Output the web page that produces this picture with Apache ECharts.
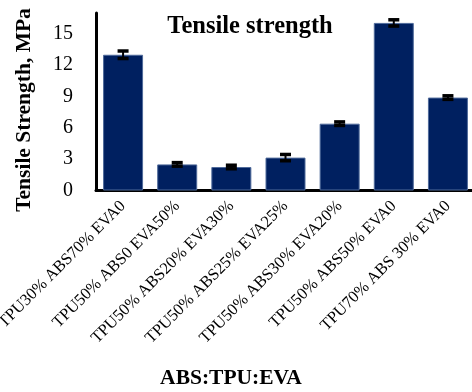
<!DOCTYPE html>
<html>
<head>
<meta charset="utf-8">
<script src="https://cdn.jsdelivr.net/npm/echarts@6/dist/echarts.min.js"></script>
<style>html,body{margin:0;padding:0;background:#fff}#c{width:472px;height:392px}</style>
</head>
<body>
<div id="c"></div>
<script>
const categories = ['TPU30% ABS70% EVA0','TPU50% ABS0 EVA50%','TPU50% ABS20% EVA30%','TPU50% ABS25% EVA25%','TPU50% ABS30% EVA20%','TPU50% ABS50% EVA0','TPU70% ABS 30% EVA0'];
const strength = [13.0, 2.5, 2.25, 3.15, 6.4, 16.05, 8.9];
const errors = [0.36, 0.17, 0.17, 0.3, 0.17, 0.3, 0.17];
const yTicks = [0, 3, 6, 9, 12, 15];

const FONT = '"Liberation Serif", "Times New Roman", serif';
const chart = echarts.init(document.getElementById('c'));
const errData = strength.map((v, i) => [i, v - errors[i], v + errors[i]]);

chart.setOption({
  animation: false,
  backgroundColor: '#fff',
  grid: { left: 96, top: 13, width: 379, height: 177.5, containLabel: false, outerBoundsMode: 'none' },
  xAxis: {
    type: 'category',
    data: categories,
    axisLine: { lineStyle: { color: '#000', width: 3 } },
    axisTick: { show: false },
    axisLabel: { rotate: 45, interval: 0, fontSize: 16.5, fontFamily: FONT, color: '#000', margin: 13 }
  },
  yAxis: {
    type: 'value',
    min: 0, max: 17, interval: 3,
    splitLine: { show: false },
    axisLine: { show: true, lineStyle: { color: '#000', width: 3 } },
    axisTick: { show: false },
    axisLabel: {
      fontSize: 20, fontFamily: FONT, color: '#000', margin: 23, showMaxLabel: false,
      formatter: v => yTicks.indexOf(v) >= 0 ? String(v) : ''
    }
  },
  series: [
    {
      type: 'bar',
      data: strength,
      barWidth: 40,
      itemStyle: { color: '#002060', borderColor: '#4f6a9a', borderWidth: 1 }
    },
    {
      type: 'custom',
      data: errData,
      z: 10,
      renderItem: function (params, api) {
        const lo = api.coord([api.value(0), api.value(1)]);
        const hi = api.coord([api.value(0), api.value(2)]);
        const x = lo[0], hw = 5.5;
        const st = { stroke: '#000', lineWidth: 3.5 };
        return {
          type: 'group',
          children: [
            { type: 'line', shape: { x1: x, y1: lo[1], x2: x, y2: hi[1] }, style: { stroke: '#000', lineWidth: 2 } },
            { type: 'line', shape: { x1: x - hw, y1: lo[1], x2: x + hw, y2: lo[1] }, style: st },
            { type: 'line', shape: { x1: x - hw, y1: hi[1], x2: x + hw, y2: hi[1] }, style: st }
          ]
        };
      }
    }
  ],
  graphic: [
    { type: 'text', x: 250, y: 27, style: { text: 'Tensile strength', font: 'bold 24.5px ' + FONT, fill: '#000', align: 'center', verticalAlign: 'middle' } },
    { type: 'text', x: 231, y: 378, style: { text: 'ABS:TPU:EVA', font: 'bold 21.5px ' + FONT, fill: '#000', align: 'center', verticalAlign: 'middle' } },
    { type: 'text', x: 24, y: 110, rotation: Math.PI / 2, style: { text: 'Tensile Strength, MPa', font: 'bold 21.5px ' + FONT, fill: '#000', align: 'center', verticalAlign: 'middle' } }
  ]
});
</script>
</body>
</html>
